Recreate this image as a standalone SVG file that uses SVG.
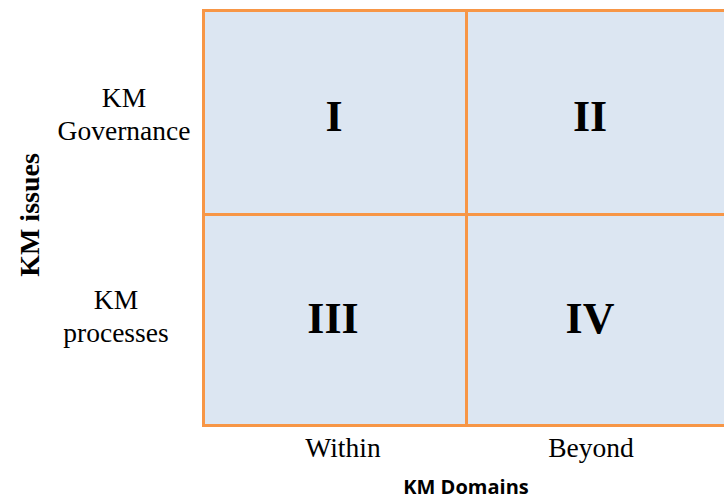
<svg xmlns="http://www.w3.org/2000/svg" width="724" height="499" viewBox="0 0 724 499">
<style>
.cell{fill:#dce6f2;stroke:#f79646;stroke-width:3}
.num{font-family:"Liberation Serif",serif;font-weight:bold;font-size:44px;text-anchor:middle;fill:#000}
.lbl{font-family:"Liberation Serif",serif;font-size:27.5px;text-anchor:middle;fill:#000}
.axis{font-weight:bold;fill:#000;text-anchor:middle}
</style>
<rect x="0" y="0" width="724" height="499" fill="#fff"/>
<g id="q1"><rect class="cell" x="203.5" y="10.5" width="263" height="204"/><text class="num" x="334" y="131">I</text></g>
<g id="q2"><rect class="cell" x="466.5" y="10.5" width="263" height="204"/><text class="num" x="590" y="131">II</text></g>
<g id="q3"><rect class="cell" x="203.5" y="214.5" width="263" height="211"/><text class="num" x="333" y="333">III</text></g>
<g id="q4"><rect class="cell" x="466.5" y="214.5" width="263" height="211"/><text class="num" x="590" y="333">IV</text></g>
<g id="row-labels">
<text class="lbl" x="124" y="107">KM</text>
<text class="lbl" x="124" y="140">Governance</text>
<text class="lbl" x="116" y="309">KM</text>
<text class="lbl" x="116" y="342">processes</text>
</g>
<g id="col-labels">
<text class="lbl" x="343" y="457">Within</text>
<text class="lbl" x="591" y="457">Beyond</text>
</g>
<text class="axis" x="466" y="494" font-family="'Open Sans','Liberation Sans',sans-serif" font-size="20">KM Domains</text>
<text class="axis" transform="translate(39,215) rotate(-90)" font-family="'Liberation Serif',serif" font-size="28">KM issues</text>
</svg>
